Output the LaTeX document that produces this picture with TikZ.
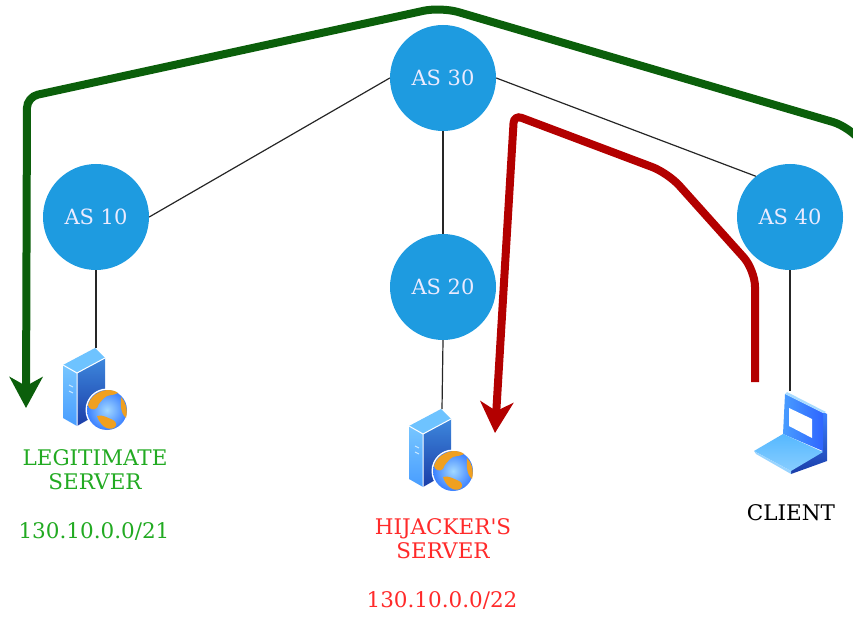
\documentclass[tikz,border=0pt]{standalone}
\usepackage{fontspec}
\setmainfont{DejaVu Serif}
\newfontfamily\plainserif{DejaVu Serif}
\usetikzlibrary{arrows.meta}
\definecolor{asblue}{HTML}{1E9BE0}
\definecolor{arrowgreen}{HTML}{0B5F0B}
\definecolor{arrowred}{HTML}{B30000}
\definecolor{labgreen}{HTML}{22AA22}
\definecolor{labred}{HTML}{FF2A2A}
\definecolor{iconlight}{HTML}{55B8FF}
\definecolor{icondark}{HTML}{1A3DA8}
\definecolor{iconorange}{HTML}{F0A020}
\tikzset{
  x=1pt,y=-1pt,
  asnode/.style={circle,fill=asblue,minimum size=106pt,inner sep=0pt,text=white!92!blue,font=\fontsize{21}{25}\selectfont},
  link/.style={draw=black!85,line width=1.2pt},
  lab/.style={align=center,inner sep=0pt,font=\fontsize{21.5}{24}\selectfont},
  route/.style={line width=8pt,-{Stealth[length=31pt,width=33pt,inset=9pt]}},
  server/.pic={
    \shade[top color=iconlight!80!white,bottom color=iconlight!85!blue] (-33,17) -- (-19,25) -- (-19,78) -- (-33,70) -- cycle;
    \shade[top color=iconlight!60!icondark,bottom color=icondark] (-19,25) -- (9,10) -- (9,62) -- (-19,78) -- cycle;
    \fill[iconlight!85!white] (-33,17) -- (-1,0) -- (9,10) -- (-19,25) -- cycle;
    \draw[white,line width=1pt,line join=round] (-33,17) -- (-19,25) -- (9,10) (-19,25) -- (-19,78);
    \draw[white!70!iconlight,line width=1pt] (-27,37) -- (-23,39) (-27,43) -- (-23,45);
    \fill[white] (11,62) circle[radius=21.5];
    \shade[inner color=iconlight!55!white,outer color=iconlight!70!blue] (11,62) circle[radius=20];
    \fill[iconorange] (-8,57) .. controls (-6,49) and (2,43) .. (11,42) .. controls (16,42) and (20,43) .. (22,45) .. controls (17,48) and (12,46) .. (8,50) .. controls (6,53) and (3,54) .. (1,60) .. controls (-3,63) and (-7,61) .. (-8,57) -- cycle;
    \fill[iconorange] (1,68) .. controls (6,66) and (12,70) .. (17,72) .. controls (21,74) and (21,78) .. (18,80) .. controls (11,83) and (4,77) .. (1,68) -- cycle;
    \fill[iconorange] (25,49) .. controls (30,54) and (32,62) .. (30,70) .. controls (26,67) and (24,60) .. (25,49) -- cycle;
    \coordinate (-top) at (0,0);
  },
  laptop/.pic={
    \shade[top color=iconlight!70!blue,bottom color=icondark] (33,21) -- (37,23) -- (37,70) -- (1,83) -- (1,79) -- (33,60) -- cycle;
    \shade[left color=iconlight!85!blue,right color=iconlight!55!blue] (-5,3) -- (33,22) -- (33,60) -- (-7,43) -- cycle;
    \fill[iconlight!50!white] (-5,3) -- (-3,1) -- (36,21) -- (33,22) -- cycle;
    \fill[white] (-1,17) -- (22,28) -- (22,47) -- (-1,35) -- cycle;
    \shade[top color=iconlight,bottom color=iconlight!70!white] (-7,43) -- (33,61) -- (1,80) -- (-36,60) -- cycle;
    \fill[iconlight!60!white] (-36,60) -- (1,80) -- (1,83) -- (-34,63) -- cycle;
    \coordinate (-top) at (0,0);
  }
}
\begin{document}
\begin{tikzpicture}
\useasboundingbox (0,0) rectangle (853,617);
\coordinate (gstart) at (880,166);
\coordinate (gend) at (26,408);
\coordinate (rstart) at (755,382);
\coordinate (rend) at (495,433);
\node[asnode] (as30) at (443,78) {AS 30};
\node[asnode] (as10) at (96,217) {AS 10};
\node[asnode] (as20) at (443,287) {AS 20};
\node[asnode] (as40) at (790,217) {AS 40};
\pic (srv1) at (96,348) {server};
\pic (srv2) at (442,409) {server};
\pic (cli) at (790,391) {laptop};
\draw[link] (as30.west) -- (as10.east);
\draw[link] (as30) -- (as20);
\draw[link] (as30.east) -- (as40.130);
\draw[link] (as10) -- (srv1-top);
\draw[link] (as20.south) -- (srv2-top);
\draw[link] (as40) -- (cli-top);
\draw[route,draw=arrowgreen,rounded corners=18pt] (gstart) -- (850,127) -- (441,7) [rounded corners=11pt] -- (27,97) -- (gend);
\draw[route,draw=arrowred,rounded corners=17pt] (rstart) -- (755,270) -- (668,173) [rounded corners=8pt] -- (514,115) -- (rend);
\node[lab,text=labgreen] (t1) at (95,470) {LEGITIMATE\\SERVER};
\node[lab,text=labgreen] (t2) at (94,532) {130.10.0.0/21};
\node[lab,text=labred] (t3) at (443,539) {HIJACKER{\plainserif '}S\\SERVER};
\node[lab,text=labred] (t4) at (442,601) {130.10.0.0/22};
\node[lab,text=black] (t5) at (791,513) {CLIENT};
\end{tikzpicture}
\end{document}
